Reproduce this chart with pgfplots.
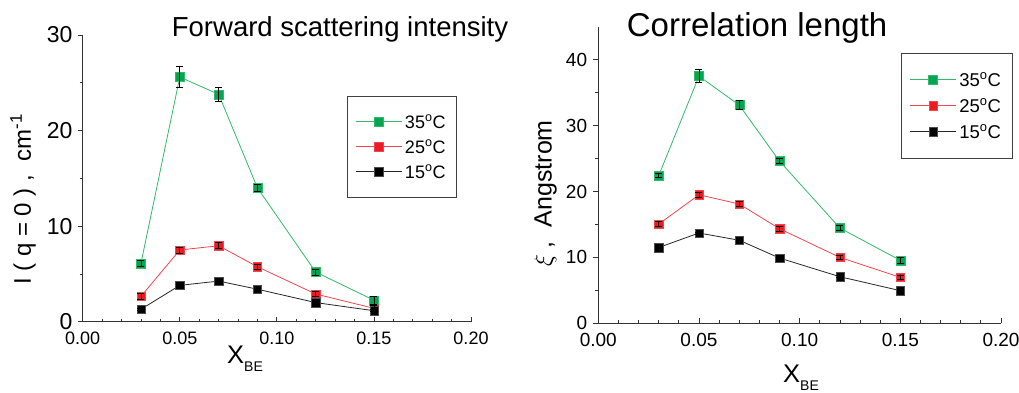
\documentclass[border=0pt]{standalone}
\usepackage{fontspec}
\setmainfont{Liberation Sans}
\usepackage{pgfplots}
\usepackage{pgfplotstable}
\pgfplotsset{compat=1.18}
\definecolor{cgreen}{RGB}{0,166,81}
\definecolor{lgreen}{RGB}{50,185,105}
\definecolor{cred}{RGB}{237,28,36}
\definecolor{lred}{RGB}{242,70,78}
% Forward scattering intensity
\pgfplotstableread{
x y e
0.03 6.1 0.3
0.05 25.6 1.1
0.07 23.8 0.7
0.09 14.0 0.4
0.12 5.2 0.3
0.15 2.25 0.4
}\Iiii
\pgfplotstableread{
x y e
0.03 2.65 0.3
0.05 7.5 0.3
0.07 7.95 0.3
0.09 5.75 0.3
0.12 2.9 0.3
0.15 1.4 0.3
}\Iii
\pgfplotstableread{
x y e
0.03 1.3 0.1
0.05 3.8 0.1
0.07 4.25 0.1
0.09 3.4 0.1
0.12 2.0 0.1
0.15 1.15 0.1
}\Ii
% Correlation length
\pgfplotstableread{
x y e
0.03 22.4 0.3
0.05 37.5 1.0
0.07 33.1 0.7
0.09 24.6 0.4
0.12 14.45 0.4
0.15 9.55 0.4
}\Ciii
\pgfplotstableread{
x y e
0.03 15.05 0.35
0.05 19.5 0.35
0.07 18.1 0.35
0.09 14.35 0.35
0.12 10.0 0.35
0.15 6.97 0.35
}\Cii
\pgfplotstableread{
x y e
0.03 11.5 0.15
0.05 13.7 0.15
0.07 12.6 0.15
0.09 9.9 0.15
0.12 7.07 0.15
0.15 4.95 0.15
}\Ci
\pgfplotsset{
 mystyle/.style={
  clip marker paths=true,
  scale only axis, axis lines*=left,
  axis line style={line width=1pt, black!80},
  xmin=0, xmax=0.2, xtick={0,0.05,0.1,0.15,0.2},
  xticklabels={0.00,0.05,0.10,0.15,0.20},
  /pgf/number format/assume math mode=true,
  minor x tick num=4, minor y tick num=1,
  xtick align=inside, ytick align=outside,
  major tick length=5pt, minor tick length=3pt,
  every tick/.style={line width=0.8pt, black!80},
  legend image code/.code={\draw[mark repeat=2, mark phase=2,#1] plot coordinates {(0pt,0pt)(23pt,0pt)(46pt,0pt)};},
  legend cell align=left,
  error bars/error bar style={black, line width=0.75pt},
  error bars/error mark options={rotate=90, black, mark size=3.5pt, line width=0.75pt},
 },
 s35/.style={color=lgreen, line width=0.8pt, mark=square*, mark size=4.5pt, mark options={solid, line width=0.4pt, fill=cgreen, draw=lgreen}},
 s25/.style={color=lred, line width=0.8pt, mark=square*, mark size=4.2pt, mark options={solid, line width=0.4pt, fill=cred, draw=lred}},
 s15/.style={color=black!85, line width=0.8pt, mark=square*, mark size=4.2pt, mark options={solid, line width=0.4pt, fill=black, draw=black!70}},
 errs/.style={forget plot, draw=none, no marks, error bars/.cd, y dir=both, y explicit},
}
\begin{document}
\begin{tikzpicture}[x=1pt,y=1pt]
\useasboundingbox (0,0) rectangle (1019,392);
% ---------------- left ----------------
\begin{axis}[mystyle,
  at={(82.7pt,70.3pt)}, anchor=south west,
  width=388.3pt, height=286.7pt,
  ymin=0, ymax=30, ytick={0,10,20,30},
  yticklabel style={font=\fontsize{23}{23}\selectfont, inner sep=0pt, xshift=-5pt},
  xticklabel style={font=\fontsize{18}{18}\selectfont, inner sep=0pt, yshift=-10pt},
  legend style={at={(axis description cs:0.68,0.788)}, anchor=north west,
    draw=black!75, line width=0.9pt, font=\fontsize{18}{18}\selectfont,
    inner xsep=8pt, inner ysep=13pt, row sep=0pt,
    nodes={inner xsep=3pt, inner ysep=6pt, text height=13pt, text depth=0pt}},
]
\addplot[s35] table[x=x,y=y] {\Iiii};
\addplot[s25] table[x=x,y=y] {\Iii};
\addplot[s15] table[x=x,y=y] {\Ii};
\addplot[errs] table[x=x,y=y,y error=e] {\Iiii};
\addplot[errs] table[x=x,y=y,y error=e] {\Iii};
\addplot[errs] table[x=x,y=y,y error=e] {\Ii};
\legend{35\textsuperscript{o}C,25\textsuperscript{o}C,15\textsuperscript{o}C}
\end{axis}
% ---------------- right ----------------
\begin{axis}[mystyle,
  at={(598.3pt,68.7pt)}, anchor=south west,
  width=402.7pt, height=296.6pt,
  ymin=0, ymax=45, ytick={0,10,20,30,40},
  yticklabel style={font=\fontsize{19}{19}\selectfont, inner sep=0pt, xshift=-6pt},
  xticklabel style={font=\fontsize{19}{19}\selectfont, inner sep=0pt, yshift=-10pt},
  legend style={at={(axis description cs:0.752,0.912)}, anchor=north west,
    draw=black!75, line width=0.9pt, font=\fontsize{18.5}{18.5}\selectfont,
    inner xsep=8pt, inner ysep=13.5pt, row sep=0pt,
    nodes={inner xsep=3pt, inner ysep=6.5pt, text height=13pt, text depth=0pt}},
]
\addplot[s35] table[x=x,y=y] {\Ciii};
\addplot[s25] table[x=x,y=y] {\Cii};
\addplot[s15] table[x=x,y=y] {\Ci};
\addplot[errs] table[x=x,y=y,y error=e] {\Ciii};
\addplot[errs] table[x=x,y=y,y error=e] {\Cii};
\addplot[errs] table[x=x,y=y,y error=e] {\Ci};
\legend{35\textsuperscript{o}C,25\textsuperscript{o}C,15\textsuperscript{o}C}
\end{axis}
% ---------------- titles and labels ----------------
\node[anchor=base west, inner sep=0pt, font=\fontsize{27.5}{27.5}\selectfont] at (171.7,355.3) {Forward scattering intensity};
\node[anchor=base west, inner sep=0pt, font=\fontsize{33}{33}\selectfont] at (626.7,355.3) {Correlation length};
\node[anchor=base west, inner sep=0pt, font=\fontsize{25.5}{25.5}\selectfont] at (227,29) {X\raisebox{-8.5pt}{\fontsize{14}{14}\selectfont BE}};
\node[anchor=base west, inner sep=0pt, font=\fontsize{25.5}{25.5}\selectfont] at (783,9.5) {X\raisebox{-8pt}{\fontsize{14}{14}\selectfont BE}};
\node[rotate=90, anchor=base west, inner sep=0pt, font=\fontsize{24}{24}\selectfont] at (31,107) {I ( q = 0 ) ,\ \ cm\textsuperscript{-1}};
\node[rotate=90, anchor=base west, inner sep=0pt, font=\fontsize{25}{25}\selectfont] at (551.7,125) {$\xi$ ,\ \ Angstrom};
\end{tikzpicture}
\end{document}
